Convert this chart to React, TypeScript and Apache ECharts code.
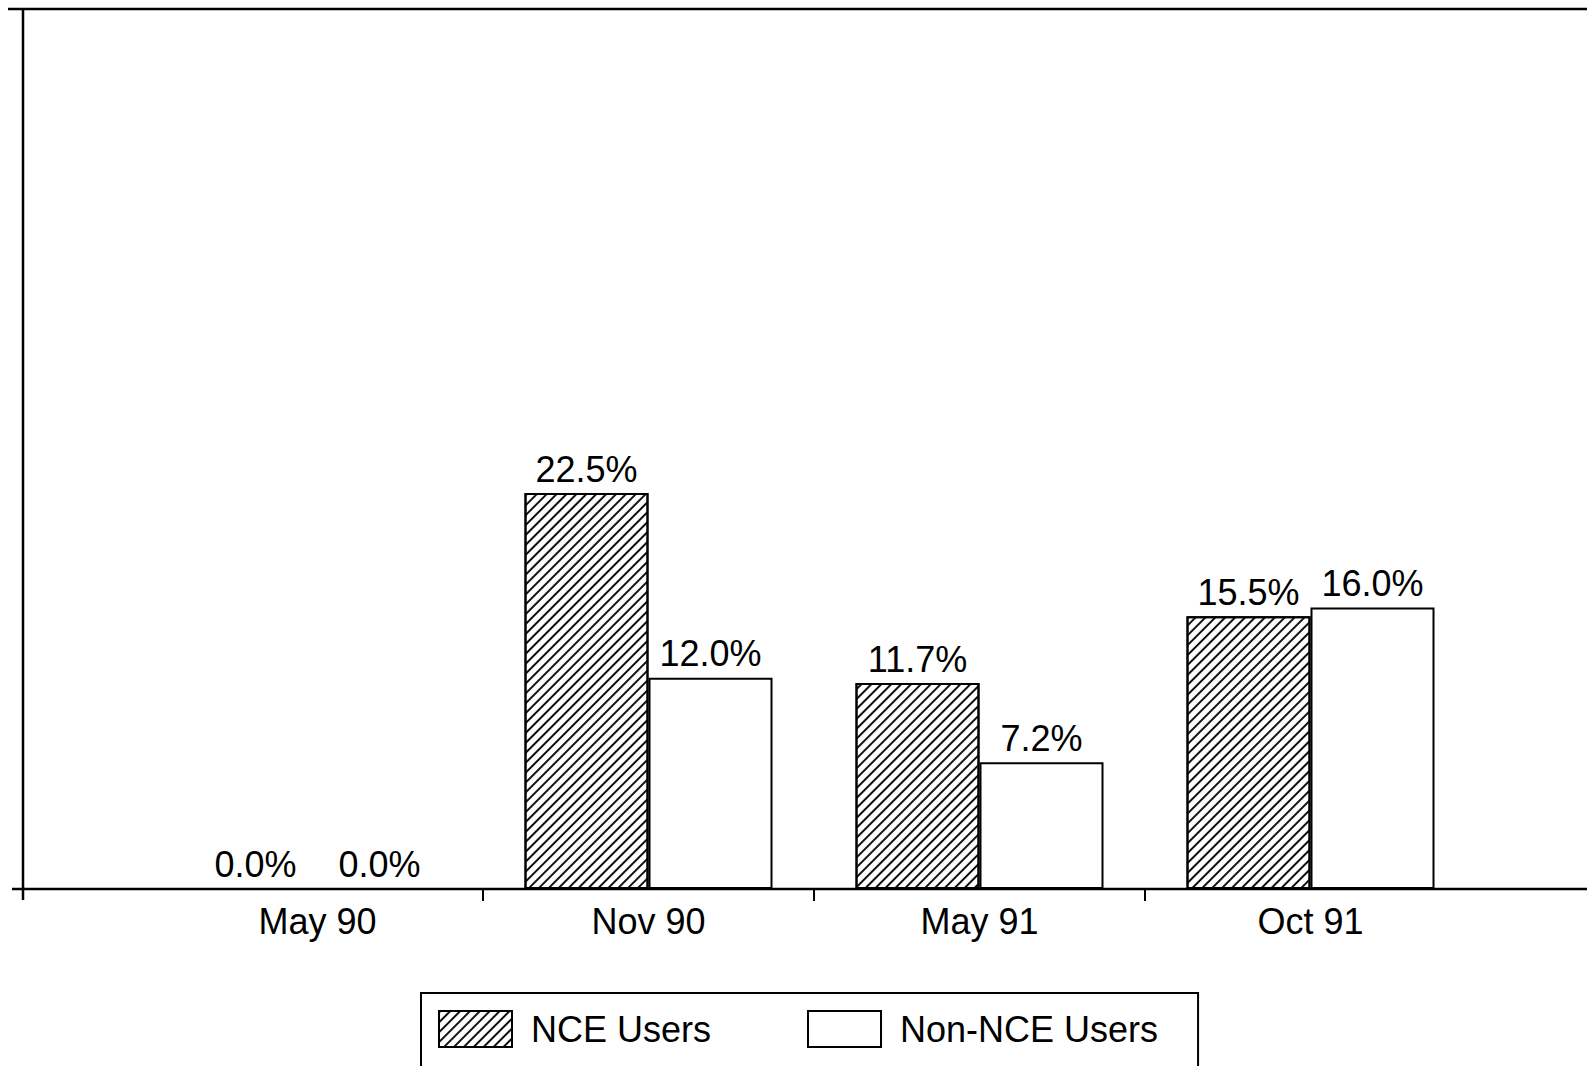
import React, { useEffect, useRef } from "react";
import * as echarts from "echarts";

const categories = ["May 90", "Nov 90", "May 91", "Oct 91"];
const nceUsers = [0.0, 22.5, 11.7, 15.5];
const nonNceUsers = [0.0, 12.0, 7.2, 16.0];
const seriesNames = ["NCE Users", "Non-NCE Users"];

const W = 1587;
const H = 1066;
const GRID_LEFT = 152;
const GRID_RIGHT = 111;
const GRID_TOP = 9;
const BASE_Y = 889;
const FONT = "'Liberation Sans', Arial, Helvetica, sans-serif";

export default function App() {
  const ref = useRef<HTMLDivElement>(null);
  useEffect(() => {
    if (!ref.current) return;
    const chart = echarts.init(ref.current, null, { renderer: "svg" });
    const bandW = (W - GRID_LEFT - GRID_RIGHT) / categories.length;
    const tickXs = [1, 2, 3].map((i) => GRID_LEFT + bandW * i);
    const decal = {
      symbol: "rect",
      symbolSize: 1,
      color: "#111",
      dashArrayX: [1, 0],
      dashArrayY: [1.4, 4.8],
      rotation: -Math.PI / 4,
    };
    const label = {
      show: true,
      position: "top",
      distance: 6,
      color: "#000",
      fontSize: 36,
      fontFamily: FONT,
      formatter: (p: any) => Number(p.value).toFixed(1) + "%",
    };
    chart.setOption({
      animation: false,
      backgroundColor: "#fff",
      grid: { left: GRID_LEFT, right: GRID_RIGHT, top: GRID_TOP, bottom: H - BASE_Y },
      xAxis: {
        type: "category",
        data: categories,
        axisLine: { show: false },
        axisTick: { show: false },
        axisLabel: { color: "#000", fontSize: 36, fontFamily: FONT, margin: 14 },
      },
      yAxis: {
        type: "value",
        min: 0,
        max: 50,
        show: false,
        splitLine: { show: false },
      },
      legend: {
        left: 421,
        top: 993,
        padding: [17, 40, 60, 17],
        borderColor: "#000",
        borderWidth: 2,
        itemWidth: 73,
        itemHeight: 36,
        itemGap: 96,
        icon: "rect",
        textStyle: { color: "#000", fontSize: 36, fontFamily: FONT, padding: [0, 0, 0, 14] },
        data: seriesNames,
      },
      series: [
        {
          name: seriesNames[0],
          type: "bar",
          data: nceUsers,
          barWidth: 124,
          barGap: "0%",
          itemStyle: { color: "#fff", borderColor: "#000", borderWidth: 2, decal },
          label,
        },
        {
          name: seriesNames[1],
          type: "bar",
          data: nonNceUsers,
          barWidth: 124,
          barGap: "0%",
          itemStyle: { color: "#fff", borderColor: "#000", borderWidth: 2 },
          label,
        },
      ],
      graphic: [
        { type: "line", shape: { x1: 8, y1: 9, x2: W, y2: 9 }, style: { stroke: "#000", lineWidth: 2.5 } },
        { type: "line", shape: { x1: 23, y1: 8, x2: 23, y2: 900 }, style: { stroke: "#000", lineWidth: 2.5 } },
        { type: "line", shape: { x1: 12, y1: BASE_Y, x2: W, y2: BASE_Y }, style: { stroke: "#000", lineWidth: 2.5 } },
        ...tickXs.map((x) => ({
          type: "line",
          shape: { x1: x, y1: BASE_Y, x2: x, y2: BASE_Y + 12 },
          style: { stroke: "#000", lineWidth: 2 },
        })),
      ],
    });
    return () => chart.dispose();
  }, []);
  return (
    <div style={{ position: "absolute", left: 0, top: 0, width: W, height: H, background: "#fff" }}>
      <div ref={ref} style={{ width: W, height: H }} />
    </div>
  );
}
